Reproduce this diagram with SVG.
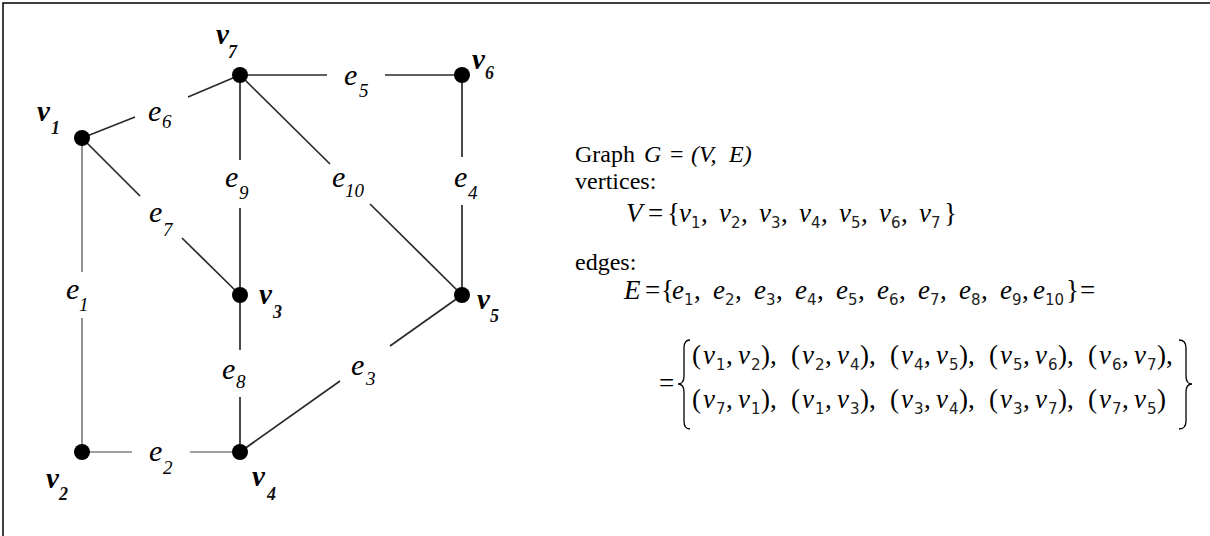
<svg xmlns="http://www.w3.org/2000/svg" width="1210" height="536" viewBox="0 0 1210 536">
<style>
.ln{stroke:#2a2a2a;stroke-width:1.7;fill:none}
.lg{stroke:#808080;stroke-width:1.7;fill:none}
.nd{fill:#000}
.vl{font-family:"Liberation Serif",serif;font-style:italic;font-weight:bold;font-size:29px;fill:#000}
.vs{font-family:"Liberation Serif",serif;font-style:italic;font-weight:bold;font-size:18px;fill:#111}
.el{font-family:"Liberation Serif",serif;font-style:italic;font-size:30px;fill:#000}
.es{font-family:"Liberation Serif",serif;font-style:italic;font-size:19px;fill:#000}
.tx{font-family:"Liberation Serif",serif;font-size:24px;fill:#000}
.ti{font-family:"Liberation Serif",serif;font-style:italic;font-size:24px;fill:#000}
.mv{font-family:"Liberation Serif",serif;font-style:italic;font-size:27px;fill:#000}
.ms{font-family:"DejaVu Sans",sans-serif;font-size:15px;fill:#222}
.mp{font-family:"Liberation Serif",serif;font-size:27px;fill:#000}
.br{stroke:#000;stroke-width:1.3;fill:none}
</style>
<rect width="1210" height="536" fill="#fff"/>
<path d="M3,536 V3 H1210" stroke="#000" stroke-width="1.5" fill="none"/>

<g id="connectors">
<line class="ln" x1="82" y1="138" x2="135" y2="117"/><line class="ln" x1="188" y1="97" x2="240" y2="75"/>
<line class="ln" x1="240" y1="75" x2="327" y2="75"/><line class="ln" x1="385" y1="75" x2="462" y2="75"/>
<line class="ln" x1="240" y1="75" x2="240" y2="160"/><line class="ln" x1="240" y1="208" x2="240" y2="295"/>
<line class="ln" x1="240" y1="75" x2="330" y2="164"/><line class="ln" x1="370" y1="204" x2="462" y2="295"/>
<line class="ln" x1="462" y1="75" x2="462" y2="157"/><line class="ln" x1="462" y1="205" x2="462" y2="295"/>
<line class="ln" x1="82" y1="138" x2="140" y2="196"/><line class="ln" x1="182" y1="238" x2="240" y2="295"/>
<line class="lg" x1="82" y1="138" x2="82" y2="272"/><line class="lg" x1="82" y1="318" x2="82" y2="452"/>
<line class="ln" x1="240" y1="295" x2="240" y2="350"/><line class="ln" x1="240" y1="397" x2="240" y2="452"/>
<line class="ln" x1="462" y1="295" x2="390" y2="346"/><line class="ln" x1="340" y1="381" x2="240" y2="452"/>
<line class="lg" x1="82" y1="452" x2="132" y2="452"/><line class="lg" x1="190" y1="452" x2="240" y2="452"/>
<text class="el" x="148" y="121">e</text><text class="es" x="162" y="128">6</text>
<text class="el" x="344" y="85">e</text><text class="es" x="359" y="97">5</text>
<text class="el" x="225" y="187">e</text><text class="es" x="239" y="199">9</text>
<text class="el" x="332" y="187">e</text><text class="es" x="345" y="197">10</text>
<text class="el" x="454" y="187">e</text><text class="es" x="468" y="199">4</text>
<text class="el" x="149" y="222">e</text><text class="es" x="163" y="236">7</text>
<text class="el" x="66" y="299">e</text><text class="es" x="79" y="311">1</text>
<text class="el" x="222" y="379">e</text><text class="es" x="236" y="388">8</text>
<text class="el" x="351" y="375">e</text><text class="es" x="366" y="385">3</text>
<text class="el" x="149" y="461">e</text><text class="es" x="163" y="474">2</text>
</g>

<g id="v1"><circle class="nd" cx="82" cy="138" r="8"/><text class="vl" x="37" y="121">v</text><text class="vs" x="51" y="134">1</text></g>
<g id="v2"><circle class="nd" cx="82" cy="452" r="8"/><text class="vl" x="46" y="488">v</text><text class="vs" x="59" y="500">2</text></g>
<g id="v3"><circle class="nd" cx="240" cy="295" r="8"/><text class="vl" x="259" y="304">v</text><text class="vs" x="273" y="318">3</text></g>
<g id="v4"><circle class="nd" cx="240" cy="452" r="8"/><text class="vl" x="252" y="486">v</text><text class="vs" x="267" y="500">4</text></g>
<g id="v5"><circle class="nd" cx="462" cy="295" r="8"/><text class="vl" x="477" y="309">v</text><text class="vs" x="490" y="322">5</text></g>
<g id="v6"><circle class="nd" cx="462" cy="75" r="8"/><text class="vl" x="472" y="69">v</text><text class="vs" x="485" y="79">6</text></g>
<g id="v7"><circle class="nd" cx="240" cy="75" r="8"/><text class="vl" x="216" y="44">v</text><text class="vs" x="228" y="58">7</text></g>

<g id="definition">
<text class="tx" x="575" y="162">Graph</text>
<text class="ti" x="644" y="162">G</text><text class="tx" x="670" y="162">=</text><text class="ti" x="691" y="162" fill="#333">(V,</text><text class="ti" x="729" y="162" fill="#333">E)</text>
<text class="tx" x="575" y="189">vertices:</text>
<text class="mv" x="626" y="222">V</text><text class="mp" x="648" y="222">=</text><text class="mp" x="667" y="222">{</text>
<g class="mv">
<text x="679" y="222">v</text><text x="719" y="222">v</text><text x="759" y="222">v</text><text x="799" y="222">v</text><text x="839" y="222">v</text><text x="879" y="222">v</text><text x="919" y="222">v</text>
</g>
<g class="ms">
<text x="691" y="228">1</text><text x="731" y="228">2</text><text x="771" y="228">3</text><text x="811" y="228">4</text><text x="851" y="228">5</text><text x="891" y="228">6</text><text x="931" y="228">7</text>
</g>
<g class="mp">
<text x="701" y="222">,</text><text x="741" y="222">,</text><text x="781" y="222">,</text><text x="821" y="222">,</text><text x="861" y="222">,</text><text x="901" y="222">,</text>
</g>
<text class="mp" x="944" y="222">}</text>

<text class="tx" x="575" y="270">edges:</text>
<text class="mv" x="624" y="299">E</text><text class="mp" x="645" y="299">=</text><text class="mp" x="661" y="299">{</text>
<g class="mv">
<text x="672" y="299">e</text><text x="713" y="299">e</text><text x="754" y="299">e</text><text x="795" y="299">e</text><text x="836" y="299">e</text><text x="877" y="299">e</text><text x="918" y="299">e</text><text x="959" y="299">e</text><text x="1000" y="299">e</text><text x="1033" y="299">e</text>
</g>
<g class="ms">
<text x="684" y="305">1</text><text x="725" y="305">2</text><text x="766" y="305">3</text><text x="807" y="305">4</text><text x="848" y="305">5</text><text x="889" y="305">6</text><text x="930" y="305">7</text><text x="971" y="305">8</text><text x="1012" y="305">9</text><text x="1045" y="305">10</text>
</g>
<g class="mp">
<text x="694" y="299">,</text><text x="735" y="299">,</text><text x="776" y="299">,</text><text x="817" y="299">,</text><text x="858" y="299">,</text><text x="899" y="299">,</text><text x="940" y="299">,</text><text x="981" y="299">,</text><text x="1022" y="299">,</text>
</g>
<text class="mp" x="1066" y="299">}</text><text class="mp" x="1080" y="299">=</text>

<text class="mp" x="659" y="392" font-size="25">=</text>
<path class="br" d="M690,340 Q684,340 684,348 V376 Q684,384 678,384 Q684,384 684,392 V421 Q684,429 690,429"/>
<path class="br" d="M1179,340 Q1186,340 1186,348 V376 Q1186,384 1192,384 Q1186,384 1186,392 V421 Q1186,429 1179,429"/>

<g id="row1">
<text class="mp" x="692" y="364">(</text><text class="mv" x="703" y="364">v</text><text class="ms" x="716" y="370">1</text><text class="mp" x="726" y="364">,</text><text class="mv" x="738" y="364">v</text><text class="ms" x="751" y="370">2</text><text class="mp" x="761" y="364">),</text>
<text class="mp" x="791" y="364">(</text><text class="mv" x="802" y="364">v</text><text class="ms" x="815" y="370">2</text><text class="mp" x="825" y="364">,</text><text class="mv" x="837" y="364">v</text><text class="ms" x="850" y="370">4</text><text class="mp" x="860" y="364">),</text>
<text class="mp" x="890" y="364">(</text><text class="mv" x="901" y="364">v</text><text class="ms" x="914" y="370">4</text><text class="mp" x="924" y="364">,</text><text class="mv" x="936" y="364">v</text><text class="ms" x="949" y="370">5</text><text class="mp" x="959" y="364">),</text>
<text class="mp" x="989" y="364">(</text><text class="mv" x="1000" y="364">v</text><text class="ms" x="1013" y="370">5</text><text class="mp" x="1023" y="364">,</text><text class="mv" x="1035" y="364">v</text><text class="ms" x="1048" y="370">6</text><text class="mp" x="1058" y="364">),</text>
<text class="mp" x="1088" y="364">(</text><text class="mv" x="1099" y="364">v</text><text class="ms" x="1112" y="370">6</text><text class="mp" x="1122" y="364">,</text><text class="mv" x="1134" y="364">v</text><text class="ms" x="1147" y="370">7</text><text class="mp" x="1157" y="364">),</text>
</g>
<g id="row2">
<text class="mp" x="692" y="408">(</text><text class="mv" x="703" y="408">v</text><text class="ms" x="716" y="414">7</text><text class="mp" x="726" y="408">,</text><text class="mv" x="738" y="408">v</text><text class="ms" x="751" y="414">1</text><text class="mp" x="761" y="408">),</text>
<text class="mp" x="791" y="408">(</text><text class="mv" x="802" y="408">v</text><text class="ms" x="815" y="414">1</text><text class="mp" x="825" y="408">,</text><text class="mv" x="837" y="408">v</text><text class="ms" x="850" y="414">3</text><text class="mp" x="860" y="408">),</text>
<text class="mp" x="890" y="408">(</text><text class="mv" x="901" y="408">v</text><text class="ms" x="914" y="414">3</text><text class="mp" x="924" y="408">,</text><text class="mv" x="936" y="408">v</text><text class="ms" x="949" y="414">4</text><text class="mp" x="959" y="408">),</text>
<text class="mp" x="989" y="408">(</text><text class="mv" x="1000" y="408">v</text><text class="ms" x="1013" y="414">3</text><text class="mp" x="1023" y="408">,</text><text class="mv" x="1035" y="408">v</text><text class="ms" x="1048" y="414">7</text><text class="mp" x="1058" y="408">),</text>
<text class="mp" x="1088" y="408">(</text><text class="mv" x="1099" y="408">v</text><text class="ms" x="1112" y="414">7</text><text class="mp" x="1122" y="408">,</text><text class="mv" x="1134" y="408">v</text><text class="ms" x="1147" y="414">5</text><text class="mp" x="1157" y="408">)</text>
</g>
</g>
</svg>
